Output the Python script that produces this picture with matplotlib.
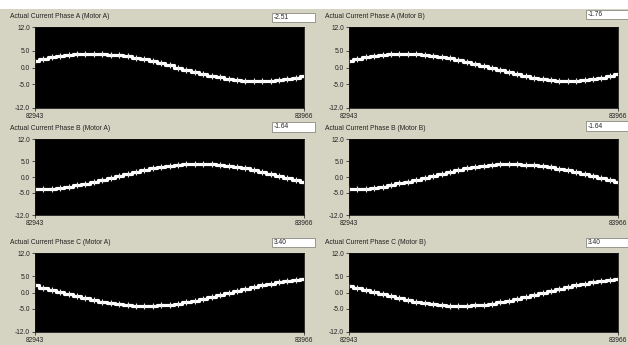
import matplotlib
matplotlib.use("Agg")
import matplotlib.pyplot as plt
from matplotlib.patches import Rectangle

# ---------------- data ----------------
samples = [82943, 82975, 83007, 83039, 83071, 83103, 83135, 83167, 83199, 83231,
           83263, 83295, 83327, 83359, 83391, 83423, 83455, 83487, 83519, 83551,
           83583, 83615, 83647, 83679, 83711, 83743, 83775, 83807, 83839, 83871,
           83903, 83935, 83966]

phaseA_motorA = [2.0, 2.5, 3.0, 3.4, 3.7, 3.9, 4.0, 4.1, 4.0, 3.8, 3.6, 3.3, 2.8, 2.4, 1.8, 1.2, 0.6,
                 0.0, -0.7, -1.3, -1.9, -2.4, -2.9, -3.3, -3.7, -3.9, -4.0, -4.1, -4.0, -3.8, -3.5, -3.0, -2.5]
phaseA_motorB = [1.9, 2.4, 3.0, 3.4, 3.7, 3.9, 4.0, 4.1, 4.0, 3.8, 3.5, 3.2, 2.8, 2.3, 1.7, 1.1, 0.5,
                 -0.1, -0.8, -1.4, -2.0, -2.5, -3.0, -3.4, -3.7, -4.0, -4.1, -4.0, -3.8, -3.5, -3.0, -2.4, -1.8]
phaseB_motorA = [-3.9, -3.9, -3.8, -3.5, -3.1, -2.6, -2.1, -1.6, -0.9, -0.3, 0.3, 1.0, 1.6, 2.1, 2.7, 3.1, 3.5,
                 3.8, 4.0, 4.1, 4.1, 4.0, 3.8, 3.5, 3.2, 2.7, 2.2, 1.6, 1.0, 0.4, -0.3, -0.9, -1.6]
phaseB_motorB = [-3.8, -3.9, -3.7, -3.4, -3.0, -2.6, -2.0, -1.5, -0.9, -0.3, 0.4, 1.0, 1.6, 2.2, 2.7, 3.2, 3.5,
                 3.8, 4.0, 4.1, 4.1, 3.9, 3.7, 3.5, 3.1, 2.6, 2.1, 1.5, 1.0, 0.3, -0.3, -1.0, -1.6]
phaseC_motorA = [2.2, 1.4, 0.8, 0.1, -0.5, -1.1, -1.7, -2.3, -2.8, -3.2, -3.6, -3.8, -4.0, -4.1, -4.1, -3.9, -3.7,
                 -3.4, -3.0, -2.6, -2.0, -1.5, -0.9, -0.2, 0.4, 1.0, 1.6, 2.2, 2.7, 3.1, 3.5, 3.8, 4.0]
phaseC_motorB = [2.1, 1.5, 0.8, 0.2, -0.4, -1.1, -1.7, -2.2, -2.8, -3.2, -3.6, -3.9, -4.0, -4.1, -4.0, -3.9, -3.7,
                 -3.4, -3.0, -2.5, -2.0, -1.4, -0.8, -0.2, 0.4, 1.1, 1.7, 2.2, 2.7, 3.2, 3.5, 3.8, 4.0]

titles = ["Actual Current Phase A (Motor A)", "Actual Current Phase A (Motor B)",
          "Actual Current Phase B (Motor A)", "Actual Current Phase B (Motor B)",
          "Actual Current Phase C (Motor A)", "Actual Current Phase C (Motor B)"]
readouts = ["-2.51", "-1.76", "-1.64", "-1.64", "3.40", "3.40"]
series = [phaseA_motorA, phaseA_motorB, phaseB_motorA, phaseB_motorB, phaseC_motorA, phaseC_motorB]

y_ticks = [12.0, 5.0, 0.0, -5.0, -12.0]
y_ticklabels = ["12.0", "5.0", "0.0", "-5.0", "-12.0"]
x_ticks = [82943, 83966]
x_ticklabels = ["82943", "83966"]

# ---------------- layout ----------------
W, H = 628, 345
BG = "#d5d4c2"
fig = plt.figure(figsize=(W / 100, H / 100), dpi=100, facecolor=BG)

def fx(x):
    return x / W

def fy(y):
    return 1 - y / H

# white strip at top
fig.add_artist(Rectangle((0, fy(9)), 1, 9 / H, transform=fig.transFigure,
                         facecolor="white", edgecolor="none", zorder=0))

col_x = [(35, 304), (349, 618)]
row_y = [(27, 108), (139, 215), (253, 332)]
title_x = [10, 325]
title_y = [17, 128, 243]
box_x = [(272, 315), (586, 632)]
box_y = [[(13, 22), (10, 19)], [(122, 132), (121, 131)], [(238, 247), (238, 247)]]

font = "Liberation Sans"

for i in range(6):
    r, c = divmod(i, 2)
    x0, x1 = col_x[c]
    y0, y1 = row_y[r]
    ax = fig.add_axes([fx(x0), fy(y1), (x1 - x0) / W, (y1 - y0) / H])
    ax.set_facecolor("black")
    ax.plot(samples, series[i], color="white", lw=2.3, drawstyle="steps-mid",
            solid_capstyle="butt")
    ax.plot(samples, series[i], color="#e8e8e8", lw=0, marker="|", ms=4.0, mew=0.8)
    ax.set_xlim(samples[0], samples[-1])
    ax.set_ylim(-12, 12)
    ax.set_yticks(y_ticks)
    ax.set_yticklabels(y_ticklabels)
    ax.set_xticks(x_ticks)
    ax.set_xticklabels(x_ticklabels)
    ax.tick_params(axis="both", direction="out", length=2.5, width=0.6, colors="#333333",
                   labelsize=4.8, pad=1.0)
    for lab in ax.get_xticklabels() + ax.get_yticklabels():
        lab.set_fontfamily(font)
        lab.set_color("#222222")
    for sp in ax.spines.values():
        sp.set_color("#111111")
        sp.set_linewidth(0.6)

    fig.text(fx(title_x[c]), fy(title_y[r]), titles[i], fontsize=4.9, family=font,
             color="#222222", ha="left", va="center")
    bx0, bx1 = box_x[c]
    by0, by1 = box_y[r][c]
    fig.add_artist(Rectangle((fx(bx0), fy(by1)), (bx1 - bx0) / W, (by1 - by0) / H,
                             transform=fig.transFigure, facecolor="white",
                             edgecolor="#8a8a80", lw=0.6, zorder=3))
    fig.text(fx(bx0 + 2), fy((by0 + by1) / 2), readouts[i], fontsize=4.8, family=font,
             color="#222222", ha="left", va="center", zorder=4)

fig.savefig("out.png", dpi=100, facecolor=BG)
